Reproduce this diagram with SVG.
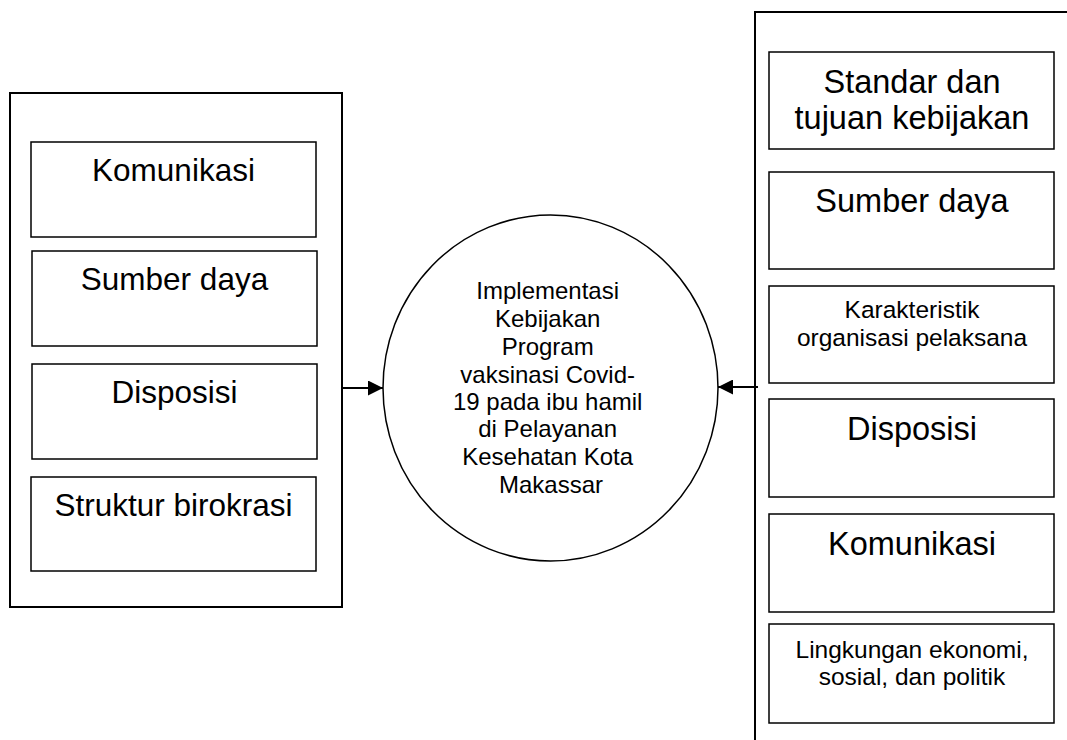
<svg xmlns="http://www.w3.org/2000/svg" width="1067" height="740" viewBox="0 0 1067 740">
<style>
.outer{fill:none;stroke:#000;stroke-width:2}
.box{fill:#fff;stroke:#000;stroke-width:1.5}
.t{font-family:"Liberation Sans",Arial,sans-serif;fill:#000;text-anchor:middle}
.big{font-size:31.5px}
.rbig{font-size:32.5px}
.small{font-size:24.5px}
.mid{font-size:24px}
.conn{stroke:#000;stroke-width:2;fill:none}
</style>
<defs>
<marker id="ah" viewBox="0 0 10 10" refX="10" refY="5" markerWidth="15" markerHeight="15" markerUnits="userSpaceOnUse" orient="auto">
<path d="M0,0 L10,5 L0,10 Z" fill="#000"/>
</marker>
</defs>
<rect width="1067" height="740" fill="#fff"/>
<g id="left-group">
<rect class="outer" x="10" y="93" width="332" height="514"/>
</g>
<g id="l-komunikasi"><rect class="box" x="31" y="142" width="285" height="95"/><text class="t big" x="173.5" y="181">Komunikasi</text></g>
<g id="l-sumber"><rect class="box" x="32" y="251" width="285" height="95"/><text class="t big" x="174.5" y="290">Sumber daya</text></g>
<g id="l-disposisi"><rect class="box" x="32" y="364" width="285" height="95"/><text class="t big" x="174.5" y="403">Disposisi</text></g>
<g id="l-struktur"><rect class="box" x="31" y="477" width="285" height="94"/><text class="t big" x="173.5" y="516">Struktur birokrasi</text></g>
<g id="center">
<ellipse cx="550.5" cy="388" rx="167.5" ry="173" fill="#fff" stroke="#000" stroke-width="1.5"/>
<text class="t mid" x="551">
<tspan x="551" y="299">Implementasi</tspan>
<tspan x="551" y="327">Kebijakan</tspan>
<tspan x="551" y="355">Program</tspan>
<tspan x="551" y="383">vaksinasi Covid-</tspan>
<tspan x="551" y="410">19 pada ibu hamil</tspan>
<tspan x="551" y="437">di Pelayanan</tspan>
<tspan x="551" y="465">Kesehatan Kota</tspan>
<tspan x="551" y="493">Makassar</tspan>
</text>
</g>
<g id="right-group">
<path class="outer" d="M755,740 L755,12 L1067,12"/>
</g>
<g id="r-standar"><rect class="box" x="769" y="52" width="285" height="97"/><text class="t rbig" x="912" y="93">Standar dan</text><text class="t rbig" x="912" y="129">tujuan kebijakan</text></g>
<g id="r-sumber"><rect class="box" x="769" y="172" width="285" height="97"/><text class="t rbig" x="912" y="212">Sumber daya</text></g>
<g id="r-karakteristik"><rect class="box" x="769" y="286" width="285" height="97"/><text class="t small" x="912" y="318">Karakteristik</text><text class="t small" x="912" y="346">organisasi pelaksana</text></g>
<g id="r-disposisi"><rect class="box" x="769" y="399" width="285" height="98"/><text class="t rbig" x="912" y="440">Disposisi</text></g>
<g id="r-komunikasi"><rect class="box" x="769" y="514" width="285" height="98"/><text class="t rbig" x="912" y="555">Komunikasi</text></g>
<g id="r-lingkungan"><rect class="box" x="769" y="624" width="285" height="99"/><text class="t small" x="912" y="658">Lingkungan ekonomi,</text><text class="t small" x="912" y="685">sosial, dan politik</text></g>
<g id="connectors">
<line class="conn" x1="343" y1="388" x2="383" y2="388" marker-end="url(#ah)"/>
<line class="conn" x1="758" y1="387" x2="718" y2="387" marker-end="url(#ah)"/>
</g>
</svg>
